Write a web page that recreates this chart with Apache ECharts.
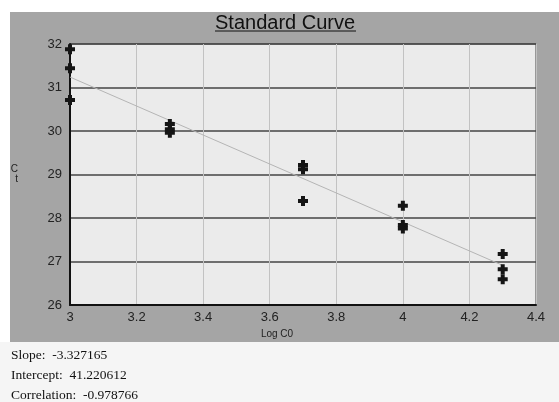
<!DOCTYPE html>
<html>
<head>
<meta charset="utf-8">
<script src="https://cdn.jsdelivr.net/npm/echarts@6/dist/echarts.min.js"></script>
<style>
html,body{margin:0;padding:0;background:#fff;}
#c{width:559px;height:402px;}
</style>
</head>
<body>
<div id="c"></div>
<script>
// Data
var ctX3 = [31.88, 31.44, 30.71];
var ctX33 = [30.16, 30.04, 29.96];
var ctX37 = [29.22, 29.12, 28.39];
var ctX40 = [28.28, 27.84, 27.76];
var ctX43 = [27.17, 26.82, 26.59];
var logC0 = [3.0, 3.3, 3.7, 4.0, 4.3];
var fitX = [3.0, 4.3];
var fitY = [31.24, 26.91];
var statsLines = ['Slope:  -3.327165', 'Intercept:  41.220612', 'Correlation:  -0.978766'];

var groups = [ctX3, ctX33, ctX37, ctX40, ctX43];
var points = [];
groups.forEach(function (g, i) {
  g.forEach(function (v) { points.push([logC0[i], v]); });
});
var fitData = fitX.map(function (x, i) { return [x, fitY[i]]; });

var chart = echarts.init(document.getElementById('c'), null, {renderer: 'canvas'});
chart.setOption({
  animation: false,
  backgroundColor: '#ffffff',
  title: {
    text: 'Standard Curve',
    left: 210,
    top: 8,
    textStyle: {fontFamily: 'Liberation Sans', fontSize: 20, fontWeight: 'normal', color: '#111'}
  },
  graphic: [
    {type: 'rect', z: -10, silent: true, shape: {x: 10, y: 12, width: 549, height: 330}, style: {fill: '#a5a5a5'}},
    {type: 'rect', z: -10, silent: true, shape: {x: 0, y: 342, width: 559, height: 60}, style: {fill: '#f5f5f5'}},
    {type: 'line', z: 10, silent: true, shape: {x1: 215, y1: 31, x2: 356, y2: 31}, style: {stroke: '#111', lineWidth: 1}},
    {type: 'text', left: 11, top: 348, style: {text: statsLines[0], font: '13.5px "Liberation Serif"', fill: '#111'}},
    {type: 'text', left: 11, top: 368, style: {text: statsLines[1], font: '13.5px "Liberation Serif"', fill: '#111'}},
    {type: 'text', left: 11, top: 388, style: {text: statsLines[2], font: '13.5px "Liberation Serif"', fill: '#111'}}
  ],
  grid: {
    left: 70, top: 44, right: 23, bottom: 97,
    show: true, backgroundColor: '#ebebeb', borderColor: '#444', borderWidth: 1
  },
  xAxis: {
    type: 'value', min: 3, max: 4.4, interval: 0.2,
    name: 'Log C0', nameLocation: 'middle', nameGap: 19,
    nameTextStyle: {fontFamily: 'Liberation Sans', fontSize: 10, color: '#222', padding: [0, 52, 0, 0]},
    axisLine: {show: true, onZero: false, lineStyle: {color: '#111', width: 2}},
    axisTick: {show: false},
    axisLabel: {fontFamily: 'Liberation Sans', fontSize: 13, color: '#222', margin: 6},
    splitLine: {show: true, lineStyle: {color: '#c2c2c2', width: 1}}
  },
  yAxis: {
    type: 'value', min: 26, max: 32, interval: 1,
    name: 'C\nt', nameLocation: 'middle', nameGap: 52, nameRotate: 0,
    nameTextStyle: {fontFamily: 'Liberation Sans', fontSize: 10, color: '#222', lineHeight: 10},
    axisLine: {show: true, onZero: false, lineStyle: {color: '#111', width: 2}},
    axisTick: {show: false},
    axisLabel: {fontFamily: 'Liberation Sans', fontSize: 13, color: '#222', margin: 8},
    splitLine: {show: true, lineStyle: {color: '#444', width: 1.5}}
  },
  series: [
    {
      type: 'line', data: fitData, symbol: 'none', silent: true,
      lineStyle: {color: '#b5b5b5', width: 1}, z: 2
    },
    {
      type: 'scatter', data: points, z: 3,
      symbol: 'path://M3,0 H7 V3 H10 V7 H7 V10 H3 V7 H0 V3 H3 Z',
      symbolSize: 10,
      itemStyle: {color: '#151515', opacity: 1}
    }
  ]
});
</script>
</body>
</html>
